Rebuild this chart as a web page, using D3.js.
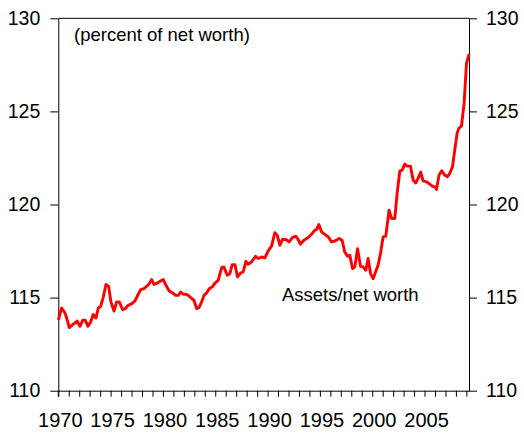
<!DOCTYPE html>
<html>
<head>
<meta charset="utf-8">
<script src="https://cdn.jsdelivr.net/npm/d3@7"></script>
<style>
  html, body { margin: 0; padding: 0; background: #fff; }
  svg { display: block; }
  text { font-family: "Liberation Sans", Arial, sans-serif; fill: #000; }
</style>
</head>
<body>
<svg id="chart" width="524" height="433"></svg>
<script>
// ---- data ----
const years = [
  1970.00,1970.32,1970.64,1970.80,1971.05,1971.43,1971.81,1972.07,1972.33,1972.58,
  1972.84,1973.09,1973.34,1973.60,1973.82,1974.05,1974.30,1974.56,1974.81,1975.03,
  1975.32,1975.58,1975.83,1976.15,1976.40,1976.69,1977.04,1977.33,1977.64,1977.87,
  1978.19,1978.44,1978.69,1978.92,1979.14,1979.46,1979.78,1980.03,1980.29,1980.60,
  1980.93,1981.21,1981.46,1981.69,1981.94,1982.20,1982.42,1982.74,1982.96,1983.22,
  1983.44,1983.70,1983.92,1984.17,1984.42,1984.75,1984.97,1985.28,1985.61,1985.83,
  1986.14,1986.40,1986.62,1986.88,1987.13,1987.42,1987.67,1987.93,1988.15,1988.47,
  1988.85,1989.10,1989.43,1989.74,1990.06,1990.38,1990.70,1990.92,1991.18,1991.43,
  1991.75,1992.06,1992.39,1992.70,1992.92,1993.15,1993.47,1993.88,1994.20,1994.52,
  1994.68,1994.90,1995.16,1995.47,1995.85,1996.11,1996.43,1996.84,1997.12,1997.38,
  1997.64,1997.86,1998.12,1998.34,1998.60,1998.88,1999.13,1999.39,1999.61,1999.84,
  2000.09,2000.32,2000.56,2000.79,2001.04,2001.30,2001.61,2001.84,2002.16,2002.38,
  2002.64,2002.86,2003.11,2003.33,2003.66,2003.91,2004.16,2004.38,2004.64,2004.86,
  2005.19,2005.50,2005.76,2005.98,2006.14,2006.39,2006.65,2006.93,2007.19,2007.41,
  2007.67,2007.89,2008.11,2008.27,2008.53,2008.78,2009.01,2009.25
];
const values = [
  113.80,114.44,114.17,113.90,113.39,113.57,113.74,113.46,113.78,113.78,
  113.46,113.69,114.09,113.90,114.44,114.53,115.03,115.71,115.60,114.77,
  114.28,114.77,114.77,114.35,114.41,114.59,114.68,114.82,115.18,115.43,
  115.48,115.60,115.75,115.97,115.71,115.78,115.89,115.97,115.66,115.36,
  115.25,115.12,115.12,115.30,115.18,115.18,115.12,114.95,114.86,114.41,
  114.46,114.77,115.12,115.25,115.48,115.60,115.78,115.93,116.61,116.65,
  116.20,116.29,116.77,116.77,116.11,116.32,116.38,116.95,116.79,116.92,
  117.22,117.10,117.18,117.13,117.51,117.76,118.49,118.35,117.81,118.13,
  118.12,117.99,118.23,118.30,118.12,117.87,118.08,118.23,118.40,118.62,
  118.65,118.92,118.53,118.40,118.23,117.99,118.04,118.17,118.08,117.45,
  117.22,117.27,116.56,116.65,117.63,116.68,116.65,116.47,117.10,116.29,
  116.02,116.38,116.74,117.37,118.26,118.30,119.69,119.25,119.25,120.59,
  121.81,121.84,122.17,122.06,122.06,121.31,121.16,121.40,121.74,121.27,
  121.22,121.09,120.98,120.95,120.81,121.58,121.81,121.58,121.49,121.67,
  122.02,122.92,123.82,124.09,124.21,125.43,127.58,128.08
];
const yTicks = [110, 115, 120, 125, 130];
const xTickYears = d3.range(1970, 2010);
const xLabelYears = [1970, 1975, 1980, 1985, 1990, 1995, 2000, 2005];
const unitsLabel = "(percent of net worth)";
const seriesLabel = "Assets/net worth";

// ---- layout ----
const svg = d3.select("#chart");
const L = 58.3, R = 469, T = 18.3, B = 390.7;

const x = d3.scaleLinear().domain([1970, 2009.25]).range([L, R]);
const y = d3.scaleLinear().domain([110, 130]).range([B, T]);

// frame top
svg.append("line").attr("x1", L).attr("x2", R).attr("y1", T).attr("y2", T)
  .attr("stroke", "#000").attr("stroke-width", 1);

// left axis
const gl = svg.append("g").attr("transform", `translate(${L},0)`)
  .call(d3.axisLeft(y).tickValues(yTicks).tickSize(8).tickSizeOuter(0).tickPadding(10).tickFormat(d3.format("d")));
// right axis
const gr = svg.append("g").attr("transform", `translate(${R},0)`)
  .call(d3.axisRight(y).tickValues(yTicks).tickSize(8).tickSizeOuter(0).tickPadding(9).tickFormat(d3.format("d")));
// bottom axis
const gb = svg.append("g").attr("transform", `translate(0,${B})`)
  .call(d3.axisBottom(x).tickValues(xTickYears).tickSize(6).tickSizeOuter(0).tickPadding(16)
    .tickFormat(d => xLabelYears.includes(d) ? String(d) : ""));

[gl, gr, gb].forEach(g => {
  g.selectAll("path.domain").attr("stroke", "#000").attr("stroke-width", 1);
  g.selectAll(".tick line").attr("stroke", "#000").attr("stroke-width", 1);
  g.selectAll("text").attr("fill", "#000").style("font-family", '"Liberation Sans", Arial, sans-serif');
});
gl.selectAll("text").style("font-size", "19.5px");
gr.selectAll("text").style("font-size", "19.5px");
gb.selectAll("text").style("font-size", "20px").attr("x", 1.5);
// extend left axis down to bottom tick
svg.append("line").attr("x1", L).attr("x2", L).attr("y1", B).attr("y2", B + 6).attr("stroke", "#000");

// line
const line = d3.line().x((d, i) => x(years[i])).y(d => y(d));
svg.append("path").datum(values)
  .attr("d", line)
  .attr("fill", "none")
  .attr("stroke", "#ff0000")
  .attr("stroke-width", 2.9)
  .attr("stroke-linejoin", "round");

// annotations
svg.append("text").attr("x", 74).attr("y", 41).style("font-size", "18.5px").text(unitsLabel);
svg.append("text").attr("x", x(1991.37)).attr("y", y(114.83)).style("font-size", "18.5px").text(seriesLabel);
</script>
</body>
</html>
